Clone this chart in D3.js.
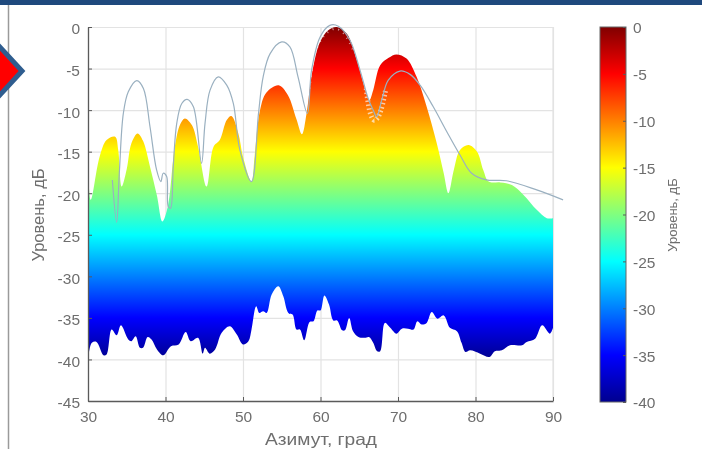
<!DOCTYPE html>
<html>
<head>
<meta charset="utf-8">
<script src="https://d3js.org/d3.v7.min.js"></script>
<style>
html, body { margin: 0; padding: 0; background: #fff; overflow: hidden; }
svg { display: block; }
text { font-family: "Liberation Sans", Arial, sans-serif; fill: #6e6e6e; }
.soft { filter: blur(0.55px); }
</style>
</head>
<body>
<svg class="chart" width="702" height="449"></svg>
<script>
// upper edge of the coloured surface
const upperAz = [30,30.35,31.5,32.4,33.5,33.9,34.35,35,35.6,36.4,37.1,38,38.9,39.6,40.3,41.2,41.9,42.5,43.4,44.2,45.3,46.2,47,47.9,48.5,49.4,50,51.1,51.5,52.2,53,54.6,55.8,56.9,57.6,58.2,58.9,59.9,61,62.1,63.4,64.7,65.8,66.3,66.8,67.7,68.8,69.8,71.1,72.4,73.7,75,75.9,76.5,77.2,78,79.1,80.2,81,81.7,83.2,84.7,86.2,87.9,89.2,90];
const upperLvl = [-16,-20.8,-15.6,-13.6,-13.2,-14.8,-19.2,-17.1,-14,-12.8,-13.7,-16.8,-20.3,-23.4,-21.6,-14.4,-11.7,-11,-11.8,-14.4,-19.2,-14.4,-13.6,-11.2,-10.7,-12.8,-15.6,-18.6,-15.5,-10,-7.9,-7,-8.2,-11.1,-12.9,-10.4,-5.6,-1.9,-0.4,0,-0.8,-4,-7.6,-8.8,-7.6,-4.6,-3.7,-3.3,-3.8,-6,-9.6,-14,-17.6,-20,-17.2,-14.8,-14.2,-15,-17.2,-18.6,-18.7,-19,-20.2,-22,-23,-23];

// lower edge of the coloured surface
const lowerAz = [30,30.5,31.1,32,32.4,33.05,33.7,34.25,35.2,35.6,36.15,36.7,37.1,37.7,38.2,38.9,39.7,40.7,41.7,42.6,43.25,44.2,44.8,45.1,45.7,46.4,47.25,48.3,49.2,50,50.7,51.1,51.7,52.1,52.6,53.05,53.7,54.55,55.2,55.85,56.4,56.9,57.35,57.9,58.6,59.1,59.6,60,60.5,61.1,61.65,62.15,62.8,63.15,63.7,64.2,64.9,65.7,66.25,66.8,67.3,67.7,68.3,69,69.8,70.5,71.3,72,72.5,73.05,73.7,74.35,75.1,75.9,76.7,77.6,78.2,78.7,79.3,80.6,81.8,82.5,83.4,84.45,86,86.6,87.7,88.6,89.6,90];
const lowerLvl = [-40,-38,-37.9,-39.5,-39.4,-36.4,-37.1,-35.9,-37.6,-37.8,-37.2,-38.6,-38.6,-37.3,-37.6,-38.8,-39.5,-38.4,-38.2,-36.7,-37.8,-37.4,-39.3,-38.6,-39.3,-38.8,-36.8,-36,-37,-38.2,-37.8,-36.4,-33.6,-34.4,-34.2,-34.4,-32.2,-31.2,-32.4,-34.4,-34.6,-36.4,-36.4,-37.7,-35.5,-35.4,-34.1,-34.1,-32.3,-33.4,-35.3,-35.3,-36.5,-36.5,-35,-36.6,-37.3,-37.4,-37.3,-38,-39,-39,-35.6,-36.2,-36.9,-36.3,-36.3,-36.4,-35.4,-35.8,-35.6,-34.3,-35.1,-34.7,-36.2,-36.6,-38,-39.1,-38.9,-39.3,-39.7,-39,-38.9,-38.3,-38.3,-37.9,-37.5,-35.9,-36.9,-36.2];

// thin measured curve
const curveAz = [33.14,33.7,34.04,34.56,35.2,36.3,37.15,38,38.85,39.4,39.7,40.15,40.35,40.65,41,41.45,42.1,42.8,43.6,44.65,45.1,45.75,46.8,47.9,48.75,49.6,51.1,52,52.6,53.5,55,56.05,57.1,58.3,58.85,59.95,61.2,62.3,63.8,65.1,66.15,66.8,67.25,67.9,68.75,70.25,71.55,72.85,74.55,76.3,78,79.5,81.4,84,87.9,91.3];
const curveLvl = [-18.4,-23.5,-17.6,-10.4,-7.8,-6.45,-7.4,-12,-17.2,-18.6,-17.6,-18,-21.6,-21.8,-16.8,-11.6,-9.2,-8.7,-9.6,-16.4,-11.6,-7.6,-6,-7,-9.2,-14.8,-18.6,-10.4,-6,-3.2,-1.8,-2.4,-6,-10.4,-5.2,-1.2,0.2,0.1,-1.6,-5.2,-8.6,-10,-10.8,-8.8,-6.4,-5.3,-5.7,-7,-9.6,-12.6,-15.4,-17.6,-18.4,-18.5,-19.6,-20.8];

// white speckle around the curve near the main lobes
const speckleAz = [65.9,66.4,66.9,67.3,67.8,68.4];
const speckleLvl = [-7.4,-10.3,-11.2,-11,-10,-7.6];
const speckleTopAz = [58.6,59,59.5,60.2,61,62,63,63.8,64.4];
const speckleTopLvl = [-7.4,-4.4,-2.6,-1.4,-0.6,-0.2,-0.8,-2,-3.2];

const xTicks = [30,40,50,60,70,80,90];
const yTicks = [0,-5,-10,-15,-20,-25,-30,-35,-40,-45];
const barTicks = [0,-5,-10,-15,-20,-25,-30,-35,-40];
const jetLevels = [-40,-35,-25,-15,-5,0];
const jetColors = ["#00008f","#0000ff","#00ffff","#ffff00","#ff0000","#800000"];

let svg = d3.select("svg.chart"),
    margin = {top: 27, bottom: 48, left: 88, right: 149},
    width = +svg.attr("width"),
    height = +svg.attr("height");

let x = d3.scaleLinear().domain([30, 90]).range([margin.left, width - margin.right]);
let y = d3.scaleLinear().domain([0, -45]).range([margin.top, height - margin.bottom]);
let yBar = d3.scaleLinear().domain([0, -40]).range([27, 402]);
let jetOffset = d3.scaleLinear().domain([0, -40]).range([0, 1]);

let defs = svg.append("defs");
function addJet(id, y1, y2) {
    let grad = defs.append("linearGradient")
        .attr("id", id)
        .attr("gradientUnits", "userSpaceOnUse")
        .attr("x1", 0).attr("x2", 0)
        .attr("y1", y1).attr("y2", y2);
    grad.selectAll("stop")
        .data(jetLevels.slice().reverse())
        .join("stop")
        .attr("offset", d => jetOffset(d))
        .attr("stop-color", d => jetColors[jetLevels.indexOf(d)]);
}
addJet("jetArea", y(0), y(-40));
addJet("jetBar", yBar(0), yBar(-40));

let root = svg.append("g").attr("class", "soft");

// slide furniture
root.append("rect").attr("x", 0).attr("y", 0).attr("width", width).attr("height", 5).attr("fill", "#1f497d");
root.append("line").attr("x1", 8.5).attr("x2", 8.5).attr("y1", 5).attr("y2", height)
    .attr("stroke", "#9a9a9a").attr("stroke-width", 1.5);
root.append("path").attr("d", "M-26,71L-1,46L22,71L-1,96Z")
    .attr("fill", "#ff0000").attr("stroke", "#2f5d8f").attr("stroke-width", 5);

// grid
root.append("g")
    .attr("transform", "translate(0," + y(-45) + ")")
    .call(d3.axisBottom(x).tickValues(xTicks).tickSize(y(0) - y(-45)).tickFormat(""))
    .call(g => g.select(".domain").remove())
    .call(g => g.selectAll("line").attr("stroke", "#e3e3e3").attr("stroke-width", 1.2));
root.append("g")
    .attr("transform", "translate(" + x(30) + ",0)")
    .call(d3.axisRight(y).tickValues(yTicks).tickSize(x(90) - x(30)).tickFormat(""))
    .call(g => g.select(".domain").remove())
    .call(g => g.selectAll("line").attr("stroke", "#e3e3e3").attr("stroke-width", 1.2));
root.append("line").attr("x1", x(90)).attr("x2", x(90)).attr("y1", y(0)).attr("y2", y(-45))
    .attr("stroke", "#e3e3e3").attr("stroke-width", 1.2);

// surface: upper edge left to right, then lower edge back
let edge = d3.line().x(d => x(d[0])).y(d => y(d[1])).curve(d3.curveCatmullRom.alpha(0.5));
let upperPath = edge(d3.zip(upperAz, upperLvl));
let lowerPath = edge(d3.zip(lowerAz, lowerLvl).reverse());
root.append("path")
    .attr("fill", "url(#jetArea)")
    .attr("d", upperPath + "L" + lowerPath.slice(1) + "Z");

// axes
function styleAxis(g) {
    g.selectAll(".domain").attr("stroke", "#5a5a5a").attr("stroke-width", 1.3);
    g.selectAll(".tick line").attr("stroke", "#5a5a5a");
    g.selectAll("text").attr("font-size", 15.5).attr("fill", "#6e6e6e");
}
root.append("g")
    .attr("transform", "translate(0," + y(-45) + ")")
    .call(d3.axisBottom(x).tickValues(xTicks).tickSizeInner(-4).tickSizeOuter(0).tickPadding(10))
    .call(styleAxis);
root.append("g")
    .attr("transform", "translate(" + x(30) + ",0)")
    .call(d3.axisLeft(y).tickValues(yTicks).tickSizeInner(-4).tickSizeOuter(0).tickPadding(8).tickFormat(d => String(d)))
    .call(styleAxis)
    .call(g => g.selectAll("text").attr("y", 2));

// curve and speckle
let line = d3.line().x(d => x(d[0])).y(d => y(d[1])).curve(d3.curveCatmullRom.alpha(0.5));
root.append("path")
    .attr("d", line(d3.zip(speckleAz, speckleLvl)))
    .attr("fill", "none").attr("stroke", "#fff").attr("stroke-width", 5)
    .attr("stroke-dasharray", "1.5 2.5").attr("opacity", 0.65);
root.append("path")
    .attr("d", line(d3.zip(speckleTopAz, speckleTopLvl)))
    .attr("fill", "none").attr("stroke", "#fff").attr("stroke-width", 2)
    .attr("stroke-dasharray", "1 5").attr("opacity", 0.6);
root.append("path")
    .attr("d", line(d3.zip(curveAz, curveLvl)))
    .attr("fill", "none").attr("stroke", "#9ab0c0").attr("stroke-width", 1.2);

// colour bar
root.append("rect")
    .attr("x", 600).attr("y", yBar(0))
    .attr("width", 26).attr("height", yBar(-40) - yBar(0))
    .attr("fill", "url(#jetBar)").attr("stroke", "#666").attr("stroke-width", 1);
root.append("g")
    .attr("transform", "translate(626,0)")
    .call(d3.axisRight(yBar).tickValues(barTicks).tickSizeInner(-3).tickSizeOuter(0).tickPadding(7).tickFormat(d => String(d)))
    .call(styleAxis)
    .call(g => g.select(".domain").remove())
    .call(g => g.selectAll("text").attr("y", 1));

// titles
root.append("text")
    .attr("x", 321).attr("y", 445)
    .attr("text-anchor", "middle").attr("font-size", 16.5)
    .attr("textLength", 112).attr("lengthAdjust", "spacingAndGlyphs")
    .text("Азимут, град");
root.append("text")
    .attr("transform", "translate(44,215) rotate(-90)")
    .attr("text-anchor", "middle").attr("font-size", 16.5)
    .text("Уровень, дБ");
root.append("text")
    .attr("transform", "translate(677,215) rotate(-90)")
    .attr("text-anchor", "middle").attr("font-size", 13)
    .text("Уровень, дБ");
</script>
</body>
</html>
